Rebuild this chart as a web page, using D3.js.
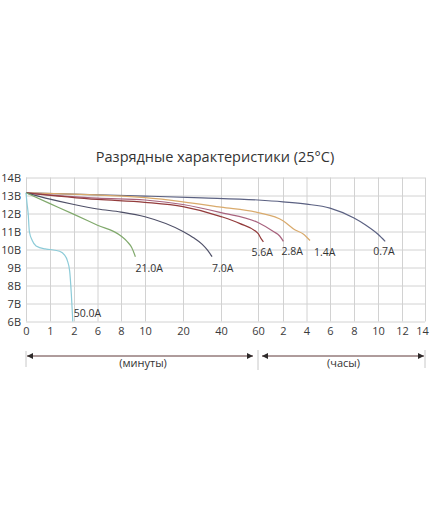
<!DOCTYPE html>
<html>
<head>
<meta charset="utf-8">
<script src="https://cdn.jsdelivr.net/npm/d3@7"></script>
<style>
  html, body { margin: 0; padding: 0; background: #fff; }
  svg { display: block; }
  text { font-family: "Open Sans", "Noto Sans", sans-serif; }
</style>
</head>
<body>
<svg id="chart" width="430" height="520"></svg>
<script>
// ---- data ----
const title = "Разрядные характеристики (25°C)";
// x axis: time in minutes (0..60 min, then hours 2..14 h)
const xTickValues = [0, 1, 2, 6, 8, 10, 20, 40, 60, 120, 240, 360, 480, 600, 720, 840];
const xTickLabels = ["0", "1", "2", "6", "8", "10", "20", "40", "60", "2", "4", "6", "8", "10", "12", "14"];
const yTickValues = [6, 7, 8, 9, 10, 11, 12, 13, 14];
const yTickLabels = ["6В", "7В", "8В", "9В", "10В", "11В", "12В", "13В", "14В"];
const unitLabels = ["(минуты)", "(часы)"];

const currents = ["50.0A", "21.0A", "7.0A", "5.6A", "2.8A", "1.4A", "0.7A"];

const t50 = [0, 0.04, 0.09, 0.14, 0.26, 0.42, 0.8, 1.0, 1.4, 1.6, 1.72, 1.82, 1.89, 1.95];
const v50 = [13.15, 12.6, 12.0, 11.0, 10.5, 10.2, 10.03, 10.0, 9.9, 9.7, 9.4, 8.8, 7.5, 6.0];

const t21 = [0, 1, 2, 6, 8, 8.5, 8.9, 9.2];
const v21 = [13.15, 12.55, 11.95, 11.35, 10.75, 10.45, 10.1, 9.6];

const t7 = [0, 1, 2, 6, 8, 10, 20, 26, 30, 33, 35.3];
const v7 = [13.15, 12.8, 12.5, 12.25, 12.08, 11.82, 11.0, 10.62, 10.3, 9.95, 9.6];

const t56 = [0, 6, 10, 20, 40, 50, 60, 67, 73];
const v56 = [13.15, 12.78, 12.62, 12.38, 11.83, 11.45, 10.9, 10.62, 10.42];

const t28 = [0, 6, 10, 20, 40, 60, 97, 112, 122];
const v28 = [13.15, 12.85, 12.75, 12.5, 12.05, 11.5, 11.0, 10.75, 10.45];

const t14 = [0, 10, 20, 40, 60, 120, 180, 225, 258];
const v14 = [13.15, 12.88, 12.65, 12.35, 12.05, 11.6, 11.1, 10.85, 10.5];

const t07 = [0, 10, 30, 60, 120, 240, 360, 480, 540, 600, 636];
const v07 = [13.15, 12.97, 12.87, 12.75, 12.65, 12.52, 12.3, 11.75, 11.35, 10.85, 10.45];

const seriesTimes = [t50, t21, t7, t56, t28, t14, t07];
const seriesVolts = [v50, v21, v7, v56, v28, v14, v07];

// ---- styles ----
const colors = ["#8ccbd8", "#80a96c", "#4f5068", "#933c3c", "#a8637e", "#d9aa6c", "#5b6182"];
const labelOffsets = [[1, -5], [0, 15], [0, 15], [-12, 14], [-2, 14], [4, 15], [-12, 14]];

// ---- chart ----
const svg = d3.select("#chart");
svg.append("rect").attr("width", 430).attr("height", 520).attr("fill", "#fff");

const xRange = [26, 50, 74, 97.5, 121, 145, 183, 221, 258, 283, 306.5, 330, 354, 378, 402, 425];
const x = d3.scaleLinear().domain(xTickValues).range(xRange);
const y = d3.scaleLinear().domain([6, 14]).range([321.5, 177.5]);

const plotTop = y(14), plotBottom = y(6), plotLeft = x(0), plotRight = x(840);

// grid via axes
const gx = svg.append("g").attr("transform", `translate(0,${plotBottom})`)
  .call(d3.axisBottom(x).tickValues(xTickValues)
    .tickSize(-(plotBottom - plotTop)).tickPadding(6)
    .tickFormat((d, i) => xTickLabels[i]));
gx.select(".domain").remove();
gx.selectAll("line").attr("stroke", "#d2d2d2").attr("stroke-width", 1);
gx.selectAll("text").attr("font-size", 11).attr("fill", "#3a3a3a")
  .attr("font-family", "'Open Sans', 'Noto Sans', sans-serif");
gx.selectAll("text").filter((d, i) => i === xTickValues.length - 1).attr("dx", -3);

const gy = svg.append("g").attr("transform", `translate(${plotLeft},0)`)
  .call(d3.axisLeft(y).tickValues(yTickValues)
    .tickSize(-(plotRight - plotLeft)).tickPadding(5)
    .tickFormat((d, i) => yTickLabels[i]));
gy.select(".domain").remove();
gy.selectAll("line").attr("stroke", "#d2d2d2").attr("stroke-width", 1);
gy.selectAll("text").attr("font-size", 11).attr("fill", "#333")
  .attr("font-family", "'Open Sans', 'Noto Sans', sans-serif");

// title
svg.append("text").attr("x", 215).attr("y", 162).attr("text-anchor", "middle")
  .attr("font-size", 14.5).attr("fill", "#333").text(title);

// curves
const line = d3.line().x(d => x(d[0])).y(d => y(d[1])).curve(d3.curveMonotoneX);
const order = [6, 5, 4, 3, 2, 1, 0];
order.forEach(i => {
  const pts = seriesTimes[i].map((t, k) => [t, seriesVolts[i][k]]);
  svg.append("path").datum(pts).attr("d", line)
    .attr("fill", "none").attr("stroke", colors[i]).attr("stroke-width", 1.2);
});

// labels at curve ends
currents.forEach((c, i) => {
  const ts = seriesTimes[i], vs = seriesVolts[i];
  const ex = x(ts[ts.length - 1]), ey = y(vs[vs.length - 1]);
  svg.append("text").attr("x", ex + labelOffsets[i][0]).attr("y", ey + labelOffsets[i][1])
    .attr("font-size", 10.5).attr("fill", "#333").text(c);
});

// bottom arrows
const ay = 356;
const defs = svg.append("defs");
defs.append("marker").attr("id", "ah").attr("viewBox", "0 0 10 10")
  .attr("refX", 10).attr("refY", 5).attr("markerWidth", 8).attr("markerHeight", 6)
  .attr("markerUnits", "userSpaceOnUse").attr("orient", "auto-start-reverse")
  .append("path").attr("d", "M0,0 L10,5 L0,10 Z").attr("fill", "#2e2a2a");

const arrowColor = "#5e3838";
[[x(0) + 1, x(60) - 5], [x(60) + 4, x(840) - 1]].forEach(([a, b]) => {
  svg.append("line").attr("x1", a).attr("x2", b).attr("y1", ay).attr("y2", ay)
    .attr("stroke", arrowColor).attr("stroke-width", 1)
    .attr("marker-start", "url(#ah)").attr("marker-end", "url(#ah)");
});
[[x(0), 351, 367], [x(60), 350, 370], [x(840), 350, 368]].forEach(([px, a, b]) => {
  svg.append("line").attr("x1", px).attr("x2", px).attr("y1", a).attr("y2", b)
    .attr("stroke", "#c8c8c8").attr("stroke-width", 1);
});
svg.append("text").attr("x", (x(0) + x(60)) / 2 + 1).attr("y", 367).attr("text-anchor", "middle")
  .attr("font-size", 11).attr("fill", "#333").text(unitLabels[0]);
svg.append("text").attr("x", (x(60) + x(840)) / 2 + 2).attr("y", 367).attr("text-anchor", "middle")
  .attr("font-size", 11).attr("fill", "#333").text(unitLabels[1]);
</script>
</body>
</html>
